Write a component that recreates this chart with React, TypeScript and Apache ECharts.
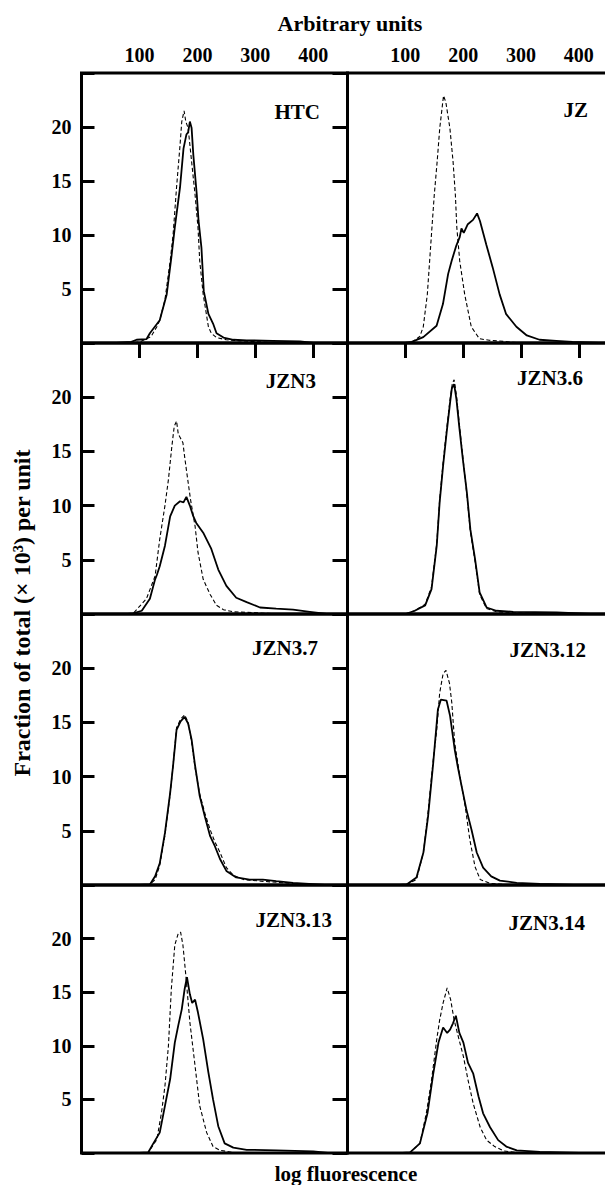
import React, { useEffect, useRef } from 'react';
import * as echarts from 'echarts';

// ---------- data ----------
const panelNames = ['HTC', 'JZ', 'JZN3', 'JZN3.6', 'JZN3.7', 'JZN3.12', 'JZN3.13', 'JZN3.14'];
const xTickValues = [100, 200, 300, 400];
const yTickValues = [5, 10, 15, 20];
const xTitle = 'Arbitrary units';
const bottomTitle = 'log fluorescence';
const yTitle = 'Fraction of total (\u00d7 10\u00b3) per unit';

const htcSolid = [[60,0],[86,0.1],[95,0.3],[112,0.35],[118,0.9],[135,2.1],[147,4.5],[155,7.9],[161,10.7],[170,14.4],[176,18],[181,19.3],[184,19.5],[187,20.5],[190,19.9],[193,17.4],[199,13.7],[202,11.3],[207,8.8],[211,4.8],[219,2.7],[227,1.8],[233,0.9],[245,0.5],[262,0.3],[285,0.25],[330,0.2],[377,0.15],[400,0]];
const htcDashed = [[80,0],[101,0.1],[120,0.6],[130,1.5],[135,2.1],[144,4],[153,7.6],[158,10],[164,14.4],[170,18.3],[173,20.5],[177,21.5],[180,20.5],[184,19.9],[190,16.8],[196,13.7],[201,10.7],[204,7.6],[210,4.5],[219,1.5],[224,0.9],[233,0.5],[250,0.3],[273,0.2],[308,0.1],[340,0]];

const jzSolid = [[100,0],[111,0.1],[131,0.55],[154,1.6],[165,3.6],[174,6.4],[180,7.6],[188,9],[194,9.8],[197,10.6],[201,10.2],[208,11],[217,11.4],[224,12],[229,11.3],[240,9.1],[251,7],[263,4.5],[274,2.7],[292,1.5],[310,0.7],[332,0.3],[361,0.2],[389,0.1],[435,0]];
const jzDashed = [[100,0],[111,0.05],[125,0.6],[131,1.5],[138,4.5],[142,7.6],[146,10.7],[150,13.7],[155,16.8],[159.5,19.9],[166,22.9],[170,22.3],[177,19.9],[182.5,16.8],[186.5,13.7],[189,10.7],[194,7.6],[202.6,4.5],[214,1.5],[228,0.4],[245,0.25],[270,0.15],[300,0]];

const jzn3Solid = [[80,0],[89,0.05],[104,0.3],[118,1.4],[127,3.2],[130,3.6],[135,4.4],[144,6.3],[153,9],[161,10],[170,10.4],[176,10.3],[181,10.8],[187,10],[193,9],[198,8.4],[210,7.5],[224,6],[236,4.1],[250,2.6],[267,1.5],[285,1.1],[308,0.6],[336,0.5],[365,0.4],[394,0.2],[423,0]];
const jzn3Dashed = [[80,0],[89,0.05],[112,1.4],[127,3.5],[135,6.9],[144,10],[150,12.4],[156,15.5],[160,17.3],[164,17.8],[167,16.6],[170,16.3],[175,15.8],[178,14.5],[181,13.3],[188,10.6],[196,8.1],[201,5.7],[210,3.2],[222,1.8],[233,0.8],[245,0.4],[262,0.2],[308,0.1],[340,0]];

const jzn36Solid = [[100,0],[116,0.3],[134,0.8],[145,2.3],[154,6.3],[159,10.3],[165,13.7],[171,16.7],[177,19.5],[180,20.8],[184,21.2],[188,19.8],[193,17.2],[199,14.3],[206,11.2],[212,7.8],[220,5.1],[228,2],[240,0.6],[257,0.3],[286,0.2],[361,0.15],[420,0]];
const jzn36Dashed = [[100,0],[116,0.3],[134,0.9],[145,2.5],[154,6.5],[159,10.5],[165,14],[171,17],[177,19.8],[181,21.3],[184,21.6],[188,20.2],[193,17.5],[199,14.5],[206,11],[212,7.6],[220,4.9],[228,1.8],[240,0.5],[257,0.2],[300,0.1],[360,0]];

const jzn37Solid = [[100,0],[118,0.05],[127,0.8],[135,2],[144,4.8],[153,8.5],[158,11],[164,14.3],[171,15.1],[178,15.5],[184,14.9],[190,13.4],[196,11],[204,8.2],[213,6.3],[222,4.5],[230,3.6],[239,2.4],[250,1.3],[267,0.7],[290,0.5],[313,0.5],[336,0.35],[365,0.2],[420,0]];
const jzn37Dashed = [[100,0],[118,0.05],[127,0.5],[135,1.8],[144,4.6],[153,8.4],[158,11],[164,14.5],[171,15.3],[178,15.7],[184,15],[190,13.2],[196,10.8],[204,8.4],[213,6.6],[222,5.1],[230,4],[239,3],[250,1.6],[262,0.9],[280,0.5],[310,0.35],[350,0.2],[400,0]];

const jzn312Solid = [[90,0],[102,0.05],[119,0.7],[131,3],[139,6.3],[148,11.3],[156,16.2],[161,17.1],[171,17],[177,15.6],[185,12.5],[190,11],[197,9.1],[205,7],[214,5.1],[223,3],[234,1.6],[248,0.8],[263,0.4],[292,0.2],[332,0.1],[390,0]];
const jzn312Dashed = [[90,0],[102,0.05],[119,0.5],[131,3],[139,6.7],[148,11.6],[154,14.3],[159,17.7],[165,19.5],[170,19.8],[176,18.6],[180,16.8],[185,13.1],[194,10],[203,7.3],[211,4.2],[220,1.7],[229,0.5],[246,0.15],[280,0]];

const jzn313Solid = [[100,0],[115,0.05],[124,0.9],[135,1.9],[144,4.4],[153,6.9],[161,10.3],[167,11.9],[173,13.4],[178,15.3],[182,16.4],[187,14.8],[191,14],[196,14.3],[201,13.1],[210,10.6],[219,7.5],[227,5],[236,2.5],[247,0.9],[262,0.5],[285,0.3],[336,0.25],[400,0.15],[425,0]];
const jzn313Dashed = [[100,0],[115,0.05],[130,1.25],[138,3.75],[144,6.25],[150,10],[155,15.3],[161,19.4],[167,20.5],[171,20.6],[175,19.4],[180,16.6],[187,12.2],[196,8.1],[204,4.4],[216,1.9],[227,0.6],[239,0.25],[262,0.05],[300,0]];

const jzn314Solid = [[95,0],[108,0.05],[125,0.9],[138,3.7],[148,7.4],[157,10.3],[165,11.7],[172,11.2],[177,11.5],[182,12.1],[187,12.8],[193,11.2],[200,10.3],[208,8.4],[217,7.4],[226,5.3],[234,3.7],[246,2.4],[260,1.2],[274,0.6],[292,0.25],[332,0.1],[400,0]];
const jzn314Dashed = [[95,0],[108,0.05],[125,0.9],[136,3.7],[145,6.8],[154,10.6],[159,12.4],[165,14],[172,15.4],[178,14.3],[184,12.4],[191,10.9],[200,9],[208,6.8],[217,4.6],[229,2.4],[240,1.2],[254,0.6],[269,0.2],[297,0]];

const solidSeries = [htcSolid, jzSolid, jzn3Solid, jzn36Solid, jzn37Solid, jzn312Solid, jzn313Solid, jzn314Solid];
const dashedSeries = [htcDashed, jzDashed, jzn3Dashed, jzn36Dashed, jzn37Dashed, jzn312Dashed, jzn313Dashed, jzn314Dashed];

// ---------- layout ----------
const FONT = '"Liberation Serif", "DejaVu Serif", serif';
const colLeft = [81.5, 347.5];
const colWidth = 266;
const rowTop = [73, 343, 614, 885];
const rowHeight = [270, 271, 271, 268];
const labelPos = [[320, 112], [588, 110], [316, 381], [583, 378], [318, 648], [586, 650], [332, 920], [585, 923]];

function buildOption() {
  const grid: any[] = [];
  const xAxis: any[] = [];
  const yAxis: any[] = [];
  const series: any[] = [];
  const graphic: any[] = [];
  panelNames.forEach((name, i) => {
    const r = Math.floor(i / 2);
    const c = i % 2;
    grid.push({
      left: colLeft[c], top: rowTop[r], width: colWidth, height: rowHeight[r],
      show: true, borderColor: '#000', borderWidth: 3, backgroundColor: 'transparent',
    });
    xAxis.push({
      gridIndex: i, type: 'value', min: 0, max: 459, interval: 100, position: 'top',
      axisLine: { show: false },
      axisTick: { show: r === 0, inside: true, length: 15, lineStyle: { color: '#000', width: 3 } },
      axisLabel: {
        show: r === 0, margin: 8, color: '#000', fontFamily: FONT, fontSize: 20, fontWeight: 'bold',
        formatter: (v: number) => (xTickValues.includes(v) ? String(v) : ''),
      },
      splitLine: { show: false },
    });
    yAxis.push({
      gridIndex: i, type: 'value', min: 0, max: 25, interval: 5, position: c === 0 ? 'left' : 'right',
      axisLine: { show: false },
      axisTick: { show: true, inside: true, length: c === 0 ? 13 : 15, lineStyle: { color: '#000', width: 3 } },
      axisLabel: {
        show: c === 0, margin: 10, color: '#000', fontFamily: FONT, fontSize: 20, fontWeight: 'bold',
        formatter: (v: number) => (yTickValues.includes(v) ? String(v) : ''),
      },
      splitLine: { show: false },
    });
    series.push({
      type: 'line', xAxisIndex: i, yAxisIndex: i, data: dashedSeries[i], showSymbol: false, symbol: 'none',
      lineStyle: { color: '#000', width: 1.1, type: [4, 2.5] }, z: 2,
    });
    series.push({
      type: 'line', xAxisIndex: i, yAxisIndex: i, data: solidSeries[i], showSymbol: false, symbol: 'none',
      lineStyle: { color: '#000', width: 1.8 }, z: 3,
    });
    graphic.push({
      type: 'text', x: labelPos[i][0], y: labelPos[i][1],
      style: { text: name, fill: '#000', font: `bold 21px ${FONT}`, textAlign: 'right', textVerticalAlign: 'middle' },
    });
  });
  graphic.push({
    type: 'text', x: 350, y: 23,
    style: { text: xTitle, fill: '#000', font: `bold 22px ${FONT}`, textAlign: 'center', textVerticalAlign: 'middle' },
  });
  graphic.push({
    type: 'text', x: 346, y: 1174,
    style: { text: bottomTitle, fill: '#000', font: `bold 21px ${FONT}`, textAlign: 'center', textVerticalAlign: 'middle' },
  });
  graphic.push({
    type: 'text', x: 22, y: 613, rotation: Math.PI / 2,
    style: { text: yTitle, fill: '#000', font: `bold 24px ${FONT}`, textAlign: 'center', textVerticalAlign: 'middle' },
  });
  return { animation: false, backgroundColor: '#fff', grid, xAxis, yAxis, series, graphic };
}

export default function App() {
  const ref = useRef<HTMLDivElement>(null);
  useEffect(() => {
    document.body.style.margin = '0';
    document.body.style.overflow = 'hidden';
    document.documentElement.style.overflow = 'hidden';
    if (!ref.current) return;
    const chart = echarts.init(ref.current, undefined, { renderer: 'svg' });
    chart.setOption(buildOption() as any);
    return () => chart.dispose();
  }, []);
  return <div ref={ref} style={{ width: 616, height: 1185 }} />;
}
